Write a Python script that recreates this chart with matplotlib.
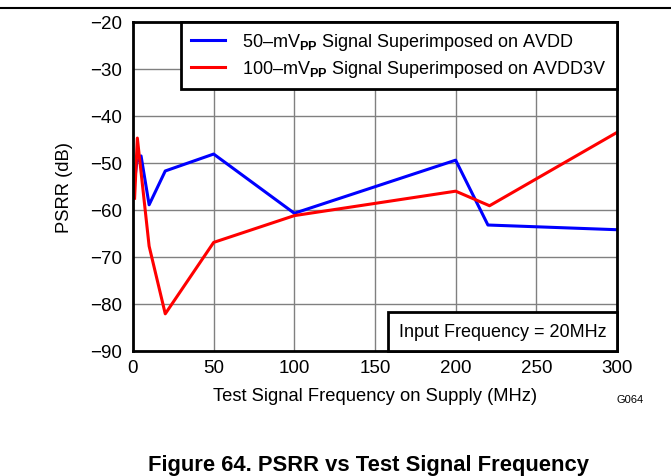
import matplotlib
matplotlib.use("Agg")
import matplotlib.pyplot as plt
from matplotlib.lines import Line2D
from matplotlib.offsetbox import AnchoredText

plt.rcParams["font.family"] = ["Liberation Sans", "DejaVu Sans"]
plt.rcParams["mathtext.fontset"] = "custom"
plt.rcParams["mathtext.rm"] = "Liberation Sans"
plt.rcParams["mathtext.bf"] = "Liberation Sans:bold"

# PSRR measured with a test tone injected on each supply rail
freq_avdd = [1, 2.3, 5, 10, 20, 50, 100, 200, 220, 300]
psrr_avdd = [-54, -50, -48.6, -59, -51.8, -48.2, -60.8, -49.5, -63.3, -64.3]

freq_avdd3v = [1, 2.7, 10, 20, 50, 100, 200, 221, 300]
psrr_avdd3v = [-57.6, -44.8, -67.8, -82.2, -67.0, -61.3, -56.1, -59.2, -43.6]

label_avdd = r"50–mV$_\mathbf{PP}$ Signal Superimposed on AVDD"
label_avdd3v = r"100–mV$_\mathbf{PP}$ Signal Superimposed on AVDD3V"

x_ticks = [0, 50, 100, 150, 200, 250, 300]
y_ticks = [-90, -80, -70, -60, -50, -40, -30, -20]

fig = plt.figure(figsize=(6.71, 4.77), dpi=100)
ax = fig.add_axes([0.1982, 0.2631, 0.7213, 0.6897])

ax.plot(freq_avdd, psrr_avdd, color="#0000ff", lw=2.2, label=label_avdd)
ax.plot(freq_avdd3v, psrr_avdd3v, color="#ff0000", lw=2.2, label=label_avdd3v)

ax.set_xlim(0, 300)
ax.set_ylim(-90, -20)
ax.set_xticks(x_ticks)
ax.set_yticks(y_ticks)
ax.set_yticklabels([f"\u2212{abs(v)}" for v in y_ticks])
ax.tick_params(length=0, labelsize=13.5)
ax.tick_params(axis="x", pad=6)
ax.tick_params(axis="y", pad=8)
ax.grid(True, color="#808080", lw=1)
for s in ax.spines.values():
    s.set_linewidth(2)

ax.set_xlabel("Test Signal Frequency on Supply (MHz)", fontsize=13.2, labelpad=8)
ax.set_ylabel("PSRR (dB)", fontsize=13.2, labelpad=12)

leg = ax.legend(loc="upper right", borderaxespad=0, fontsize=13, fancybox=False,
                framealpha=1, edgecolor="black", handlelength=1.9,
                handletextpad=0.95, labelspacing=0.3, borderpad=0.55)
leg.get_frame().set_linewidth(2)

note = AnchoredText("Input Frequency = 20MHz", loc="lower right", borderpad=0,
                    pad=0.6, prop=dict(size=13))
note.patch.set_boxstyle("square,pad=0")
note.patch.set_linewidth(2)
note.patch.set_edgecolor("black")
ax.add_artist(note)

fig.text(630 / 671, 1 - 400 / 477, "G064", fontsize=8, ha="center", va="center")
fig.add_artist(Line2D([0, 1], [1 - 9 / 477, 1 - 9 / 477], color="black", lw=1.5,
                      transform=fig.transFigure))
fig.text(368 / 671, 1 - 471 / 477, "Figure 64. PSRR vs Test Signal Frequency",
         fontsize=15.8, fontweight="bold", ha="center", va="baseline")

fig.savefig("out.png", dpi=100)
